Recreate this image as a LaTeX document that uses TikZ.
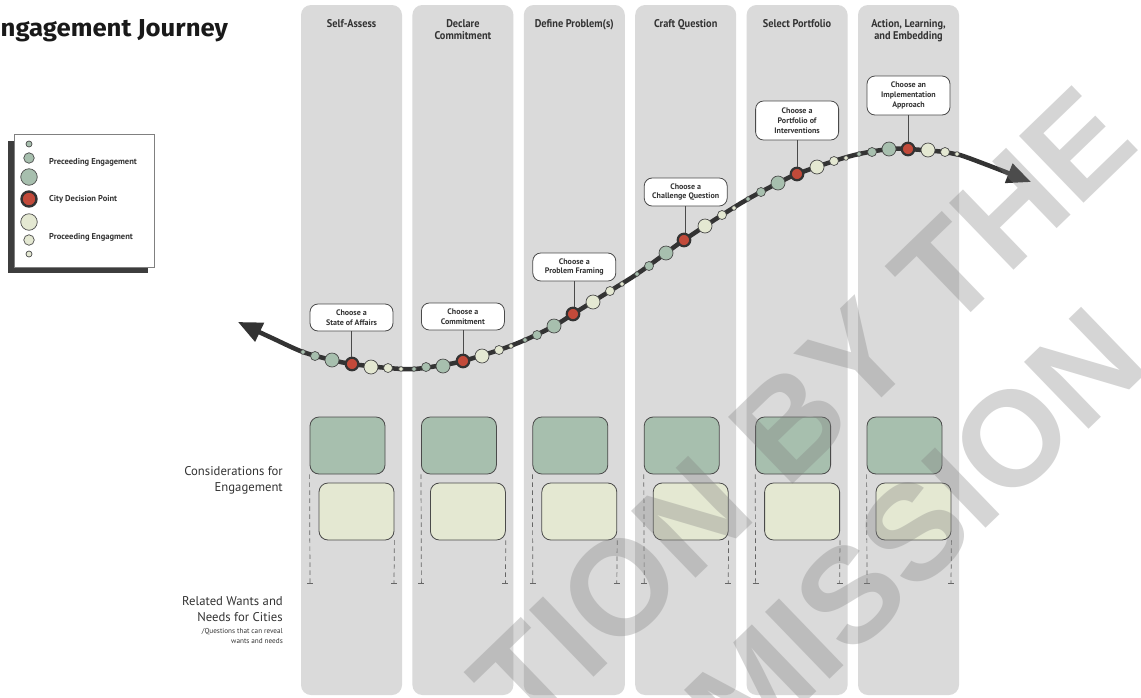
\documentclass[tikz,border=0pt]{standalone}
\usepackage{fontspec}
\usetikzlibrary{arrows.meta}
\newfontfamily\dinfont{PT Sans}[FakeStretch=0.92]
\newfontfamily\plainfont{PT Sans}
\newfontfamily\titlefont{Fira Sans}[FakeStretch=1.05]
\newfontfamily\wmfont{Liberation Sans}
\definecolor{colgray}{HTML}{DADADA}
\definecolor{sage}{HTML}{A7BFAE}
\definecolor{cream}{HTML}{E4E8D2}
\definecolor{brick}{HTML}{C24A3A}
\definecolor{ink}{HTML}{333333}
\definecolor{edge}{HTML}{4A4A4A}
\begin{document}
\begin{tikzpicture}[x=1pt,y=-1pt,
  colbox/.style={fill=colgray, draw=none, rounded corners=10pt, minimum width=101pt, minimum height=690pt, inner sep=0pt},
  header/.style={font={\dinfont\bfseries\fontsize{11.2}{12}\selectfont}, text=ink, align=center, anchor=north, inner sep=0pt},
  callout/.style={draw=edge, fill=white, line width=0.8pt, rounded corners=8pt, minimum width=83pt, align=center, inner sep=1pt, font={\plainfont\bfseries\fontsize{8}{9.8}\selectfont}, text=ink},
  conn/.style={draw=edge, line width=0.8pt},
  dot/.style={circle, draw=edge, line width=0.7pt, inner sep=0pt},
  dtg/.style={dot, fill=sage, minimum size=4.6pt},
  dg4/.style={dot, fill=sage, minimum size=9pt},
  dg7/.style={dot, fill=sage, minimum size=14pt},
  dR/.style={dot, fill=brick, draw=ink, line width=2.2pt, minimum size=12.5pt},
  dl7/.style={dot, fill=cream, minimum size=14pt},
  dl4/.style={dot, fill=cream, minimum size=9pt},
  dtl/.style={dot, fill=cream, minimum size=4.6pt},
  greenbox/.style={fill=sage, draw=edge, line width=0.8pt, rounded corners=9pt, minimum width=75pt, minimum height=57pt, inner sep=0pt},
  creambox/.style={fill=cream, draw=edge, line width=0.8pt, rounded corners=9pt, minimum width=75pt, minimum height=57pt, inner sep=0pt},
  guide/.style={draw=edge!85, line width=0.7pt, dash pattern=on 4.5pt off 3.5pt},
  tick/.style={draw=edge!85, line width=0.7pt},
  sidelabel/.style={font={\plainfont\fontsize{12.7}{16}\selectfont}, text=ink, align=right, anchor=north east, inner sep=0pt},
  legtext/.style={font={\plainfont\bfseries\fontsize{8.5}{9}\selectfont}, text=ink, anchor=west, inner sep=0pt},
  wm/.style={font={\wmfont\bfseries\fontsize{135}{135}\selectfont}, text=gray, text opacity=0.33, inner sep=0pt}
]
\clip (0,0) rectangle (1141,697);
\fill[white] (0,0) rectangle (1141,697);

% stage columns
\foreach \i in {0,...,5} {
  \node[colbox] (col\i) at (351.5+111.4*\i,350) {};
}

% stage headers
\node[header] (h0) at (351.5,19) {Self-Assess};
\node[header] (h1) at (462.9,19) {Declare\\Commitment};
\node[header] (h2) at (574.3,19) {Define Problem(s)};
\node[header] (h3) at (685.7,19) {Craft Question};
\node[header] (h4) at (797.1,19) {Select Portfolio};
\node[header] (h5) at (908.5,19) {Action, Learning,\\and Embedding};

% journey line
\coordinate (start) at (238,322);
\coordinate (finish) at (1031,182);
\draw[ink, line width=4.5pt, {Triangle[length=24pt,width=20pt]}-{Triangle[length=24pt,width=20pt]}]
  plot[smooth, tension=0.55] coordinates {(start) (272,338) (303,352) (332,360) (352,364) (388,368) (414,369) (443,365) (463,361) (499,350) (525,340) (554,326) (573,314) (610,291) (637,274) (666,253) (684,240) (722,215) (748,199) (778,183) (797,174) (834,161) (859,154) (889,149) (908,149) (945,152) (960,155) (990,166) (finish)};

% engagement dots
\foreach \n/\s/\x/\y in {
  1/tg/303/352, 1/g4/315/356, 1/g7/332/360, 1/R/352/364, 1/l7/371/367, 1/l4/388/368, 1/tl/401/369,
  2/tg/414/369, 2/g4/426/367, 2/g7/443/366, 2/R/463/361, 2/l7/482/356, 2/l4/499/350, 2/tl/511/346,
  3/tg/525/340, 3/g4/537/335, 3/g7/554/326, 3/R/573/314, 3/l7/593/302, 3/l4/610/291, 3/tl/622/284,
  4/tg/637/274, 4/g4/649/266, 4/g7/666/253, 4/R/684/240, 4/l7/705/226, 4/l4/722/215, 4/tl/734/208,
  5/tg/748/199, 5/g4/761/192, 5/g7/778/183, 5/R/797/174, 5/l7/817/167, 5/l4/834/161, 5/tl/846/158,
  6/tg/859/154, 6/g4/872/152, 6/g7/889/149, 6/R/908/149, 6/l7/928/150, 6/l4/945/152, 6/tl/957/154} {
  \node[d\s] (dot\n\s) at (\x,\y) {};
}

% decision callouts
\node[callout, minimum height=27pt] (c1) at (351.5,317.5) {Choose a\\State of Affairs};
\node[callout, minimum height=27pt] (c2) at (462.9,316.5) {Choose a\\Commitment};
\node[callout, minimum height=28pt] (c3) at (574.3,267) {Choose a\\Problem Framing};
\node[callout, minimum height=28pt] (c4) at (685.7,192) {Choose a\\Challenge Question};
\node[callout, minimum height=39pt] (c5) at (797.1,120.5) {Choose a\\Portfolio of\\Interventions};
\node[callout, minimum height=39pt] (c6) at (908.5,95.5) {Choose an\\Implementation\\Approach};
\foreach \n in {1,...,6} {
  \draw[conn] (c\n.south) -- (c\n.south |- dot\n R.north);
}

% consideration boxes and guides
\foreach \i in {0,...,5} {
  \node[greenbox] (g\i) at (347.5+111.4*\i,445.5) {};
  \node[creambox] (k\i) at (356.5+111.4*\i,511.5) {};
  \coordinate (gl\i) at (310+111.4*\i,583);
  \coordinate (gr\i) at (394+111.4*\i,583);
  \draw[guide] (g\i.south west) -- (gl\i);
  \draw[guide] (k\i.south east) -- (gr\i);
  \draw[tick] ([xshift=-3pt]gl\i) -- ([xshift=3pt]gl\i);
  \draw[tick] ([xshift=-3pt]gr\i) -- ([xshift=3pt]gr\i);
}

% row labels
\node[sidelabel] (rowA) at (283,466) {Considerations for\\Engagement};
\node[sidelabel] (rowB) at (283,596) {Related Wants and\\Needs for Cities};
\node[sidelabel, font={\plainfont\fontsize{7.2}{10}\selectfont}] (rowBnote) at (283,628) {/Questions that can reveal\\wants and needs};

% legend
\node[fill=ink!95, minimum width=140pt, minimum height=132pt, inner sep=0pt] (legshadow) at (78,207) {};
\node[fill=white, draw=edge!70, line width=0.8pt, minimum width=140pt, minimum height=133pt, inner sep=0pt] (legend) at (84,200.5) {};
\node[dot, fill=sage, minimum size=6pt] (lg1) at (29,144) {};
\node[dot, fill=sage, minimum size=10.5pt] (lg2) at (29,158) {};
\node[dot, fill=sage, minimum size=16.5pt] (lg3) at (29,177) {};
\node[dot, fill=brick, draw=ink, line width=2.4pt, minimum size=15pt] (lg4) at (29,199) {};
\node[dot, fill=cream, minimum size=16.5pt] (lg5) at (29,222) {};
\node[dot, fill=cream, minimum size=10.5pt] (lg6) at (29,240) {};
\node[dot, fill=cream, minimum size=6pt] (lg7) at (29,254) {};
\node[legtext] (lt1) at (49,162) {Preceeding Engagement};
\node[legtext] (lt2) at (49,199) {City Decision Point};
\node[legtext] (lt3) at (49,237) {Proceeding Engagment};

% title, its first letter running off the left edge
\node[font={\titlefont\bfseries\fontsize{24.5}{26}\selectfont}, text=black!90, anchor=base west, inner sep=0pt] (title) at (0.5,36) {\llap{E}ngagement Journey};

% watermark
\node[wm, rotate=44] (wm1) at (803,410) {TION BY THE};
\node[wm, rotate=44] (wm2) at (915,532) {MISSION};
\end{tikzpicture}
\end{document}
